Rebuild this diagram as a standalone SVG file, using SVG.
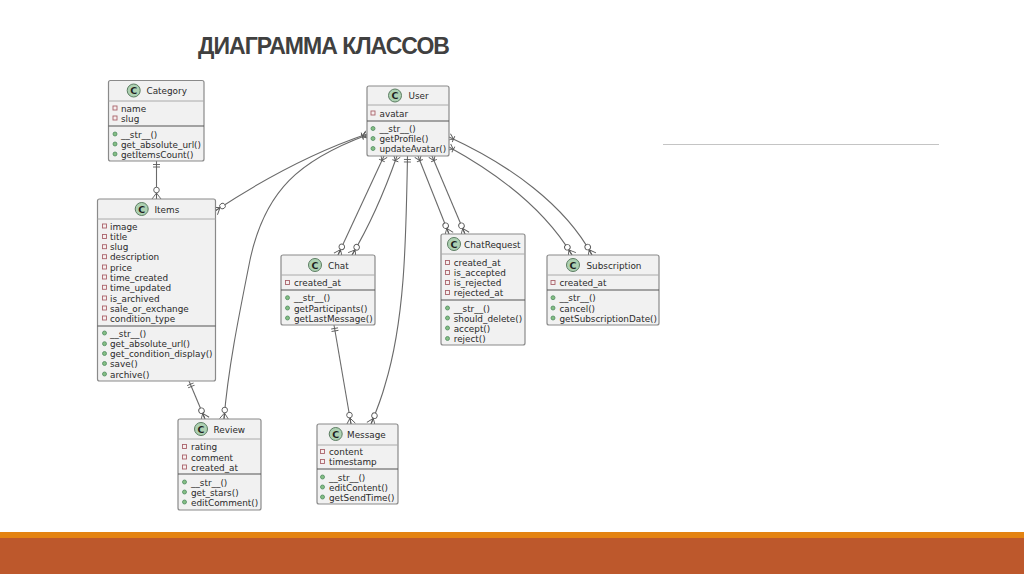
<svg xmlns="http://www.w3.org/2000/svg" width="1024" height="574" viewBox="0 0 1024 574">
<style>
.box{fill:#f1f1f1;stroke:#8a8a8a;stroke-width:1.2}
.sep1{stroke:#aaaaaa;stroke-width:1;fill:none}
.sep2{stroke:#555555;stroke-width:1.2;fill:none}
.icon{fill:#add1b2;stroke:#5c7d62;stroke-width:1}
.c{font:bold 9.5px "DejaVu Sans",sans-serif;fill:#1f1f1f;text-anchor:middle}
.t{font:8.85px "DejaVu Sans",sans-serif;fill:#2a2a2a}
.h{font:8.85px "DejaVu Sans",sans-serif;fill:#2a2a2a}
.title{font:bold 23px "Liberation Sans",Arial,sans-serif;fill:#404040;letter-spacing:-.95px}
.conn{fill:none;stroke:#6a6a6a;stroke-width:1.1}
.zm{marker-end:url(#zeroMany)}
.om{marker-start:url(#oneMany)}
.oo{marker-start:url(#oneOne)}
.mk{fill:none;stroke:#5a5a5a;stroke-width:.9}
</style>
<defs>
<marker id="zeroMany" markerUnits="userSpaceOnUse" markerWidth="24" markerHeight="24" refX="0" refY="0" orient="auto" overflow="visible">
<path class="mk" d="M-6,0L0,-4.5M-6,0L0,0M-6,0L0,4.5"/><circle cx="-9" cy="0" r="2.8" fill="#fff" stroke="#5a5a5a" stroke-width=".9"/>
</marker>
<marker id="oneMany" markerUnits="userSpaceOnUse" markerWidth="24" markerHeight="24" refX="0" refY="0" orient="auto-start-reverse" overflow="visible">
<path class="mk" d="M-5,0L0,-3.5M-5,0L0,3.5M-5,-3.2L-5,3.2"/>
</marker>
<marker id="oneOne" markerUnits="userSpaceOnUse" markerWidth="24" markerHeight="24" refX="0" refY="0" orient="auto-start-reverse" overflow="visible">
<path class="mk" d="M-3.5,-3.5L-3.5,3.5M-6,-3.5L-6,3.5"/>
</marker>
<g id="p"><rect x="-2" y="-2" width="4" height="4" fill="#f6eeee" stroke="#a9636b" stroke-width=".9"/></g>
<g id="m"><circle r="2" fill="#84be84" stroke="#4f8a5f" stroke-width=".8"/></g>
</defs>
<rect width="1024" height="574" fill="#ffffff"/>
<text class="title" x="198" y="54">ДИАГРАММА КЛАССОВ</text>
<line x1="663" y1="144.5" x2="939" y2="144.5" stroke="#c4c4c4" stroke-width="1"/>
<rect x="0" y="532" width="1024" height="6" fill="#e48312"/>
<rect x="0" y="538" width="1024" height="36" fill="#bd582c"/>

<g id="connectors">
<path class="conn oo zm" d="M156.500,161L156.500,199"/>
<path class="conn om zm" d="M367,134C320,150 265,178 215,211"/>
<path class="conn om zm" d="M367,135C300,160 265,190 250,260C238,320 228,370 224,419"/>
<path class="conn om zm" d="M384,156L338,255"/>
<path class="conn om zm" d="M397,156C385,190 370,225 352,255"/>
<path class="conn oo zm" d="M407.500,156C406,240 405,320 385,385C381,400 376,412 371,424"/>
<path class="conn om zm" d="M418,156L449,234"/>
<path class="conn om zm" d="M432,156L465,234"/>
<path class="conn om zm" d="M449,137C510,165 565,205 592,255"/>
<path class="conn om zm" d="M449,147C500,175 545,210 572,255"/>
<path class="conn oo zm" d="M334,325L351,424"/>
<path class="conn oo zm" d="M189,381L205,419"/>
</g>

<g id="category">
<rect class="box" x="108.500" y="80.500" width="95.500" height="80.500" rx="2"/>
<line class="sep1" x1="108.500" y1="101" x2="204" y2="101"/><line class="sep2" x1="108.500" y1="126" x2="204" y2="126"/>
<circle class="icon" cx="133.700" cy="90.500" r="6.500"/><text class="c" x="133.700" y="94">C</text>
<text class="h" x="146.500" y="94">Category</text>
<use href="#p" x="115" y="108"/><text class="t" x="121" y="111.500">name</text>
<use href="#p" x="115" y="118"/><text class="t" x="121" y="121.500">slug</text>
<use href="#m" x="115" y="134"/><text class="t" x="121" y="137.500">__str__()</text>
<use href="#m" x="115" y="144"/><text class="t" x="121" y="147.500">get_absolute_url()</text>
<use href="#m" x="115" y="154"/><text class="t" x="121" y="157.500">getItemsCount()</text>
</g>

<g id="items">
<rect class="box" x="97.500" y="199" width="118" height="182" rx="2"/>
<line class="sep1" x1="97.500" y1="219" x2="215.500" y2="219"/><line class="sep2" x1="97.500" y1="326" x2="215.500" y2="326"/>
<circle class="icon" cx="141.700" cy="209" r="6.500"/><text class="c" x="141.700" y="212.500">C</text>
<text class="h" x="154.500" y="212.500">Items</text>
<use href="#p" x="104.500" y="226"/><text class="t" x="110" y="229.500">image</text>
<use href="#p" x="104.500" y="236.500"/><text class="t" x="110" y="240">title</text>
<use href="#p" x="104.500" y="246.700"/><text class="t" x="110" y="250.200">slug</text>
<use href="#p" x="104.500" y="256.700"/><text class="t" x="110" y="260.200">description</text>
<use href="#p" x="104.500" y="267"/><text class="t" x="110" y="270.500">price</text>
<use href="#p" x="104.500" y="277"/><text class="t" x="110" y="280.500">time_created</text>
<use href="#p" x="104.500" y="287.300"/><text class="t" x="110" y="290.800">time_updated</text>
<use href="#p" x="104.500" y="298"/><text class="t" x="110" y="301.500">is_archived</text>
<use href="#p" x="104.500" y="308"/><text class="t" x="110" y="311.500">sale_or_exchange</text>
<use href="#p" x="104.500" y="318"/><text class="t" x="110" y="321.500">condition_type</text>
<use href="#m" x="104.500" y="333"/><text class="t" x="110" y="336.500">__str__()</text>
<use href="#m" x="104.500" y="343.700"/><text class="t" x="110" y="347.200">get_absolute_url()</text>
<use href="#m" x="104.500" y="353.500"/><text class="t" x="110" y="357">get_condition_display()</text>
<use href="#m" x="104.500" y="363.500"/><text class="t" x="110" y="367">save()</text>
<use href="#m" x="104.500" y="374"/><text class="t" x="110" y="377.500">archive()</text>
</g>

<g id="review">
<rect class="box" x="178" y="419" width="83" height="91" rx="2"/>
<line class="sep1" x1="178" y1="439" x2="261" y2="439"/><line class="sep2" x1="178" y1="474" x2="261" y2="474"/>
<circle class="icon" cx="201" cy="429" r="6.500"/><text class="c" x="201" y="432.500">C</text>
<text class="h" x="213.500" y="432.500">Review</text>
<use href="#p" x="184.500" y="446.500"/><text class="t" x="191" y="450">rating</text>
<use href="#p" x="184.500" y="457"/><text class="t" x="191" y="460.500">comment</text>
<use href="#p" x="184.500" y="467"/><text class="t" x="191" y="470.500">created_at</text>
<use href="#m" x="184.500" y="482"/><text class="t" x="191" y="485.500">__str__()</text>
<use href="#m" x="184.500" y="492"/><text class="t" x="191" y="495.500">get_stars()</text>
<use href="#m" x="184.500" y="502"/><text class="t" x="191" y="505.500">editComment()</text>
</g>

<g id="user">
<rect class="box" x="367" y="86" width="82" height="70" rx="2"/>
<line class="sep1" x1="367" y1="105" x2="449" y2="105"/><line class="sep2" x1="367" y1="121" x2="449" y2="121"/>
<circle class="icon" cx="395" cy="95.500" r="6.500"/><text class="c" x="395" y="99">C</text>
<text class="h" x="408.500" y="99">User</text>
<use href="#p" x="373" y="113"/><text class="t" x="379.500" y="116.500">avatar</text>
<use href="#m" x="373" y="128.500"/><text class="t" x="379.500" y="132">__str__()</text>
<use href="#m" x="373" y="138.500"/><text class="t" x="379.500" y="142">getProfile()</text>
<use href="#m" x="373" y="148.500"/><text class="t" x="379.500" y="152">updateAvatar()</text>
</g>

<g id="chat">
<rect class="box" x="281" y="255" width="94" height="70" rx="2"/>
<line class="sep1" x1="281" y1="275" x2="375" y2="275"/><line class="sep2" x1="281" y1="290" x2="375" y2="290"/>
<circle class="icon" cx="315" cy="265" r="6.500"/><text class="c" x="315" y="268.500">C</text>
<text class="h" x="328" y="268.500">Chat</text>
<use href="#p" x="287.500" y="282.500"/><text class="t" x="294" y="286">created_at</text>
<use href="#m" x="287.500" y="297.700"/><text class="t" x="294" y="301.200">__str__()</text>
<use href="#m" x="287.500" y="308"/><text class="t" x="294" y="311.500">getParticipants()</text>
<use href="#m" x="287.500" y="318"/><text class="t" x="294" y="321.500">getLastMessage()</text>
</g>

<g id="chatrequest">
<rect class="box" x="441" y="234" width="84" height="111" rx="2"/>
<line class="sep1" x1="441" y1="254" x2="525" y2="254"/><line class="sep2" x1="441" y1="300" x2="525" y2="300"/>
<circle class="icon" cx="454" cy="244" r="6.500"/><text class="c" x="454" y="247.500">C</text>
<text class="h" x="464" y="247.500">ChatRequest</text>
<use href="#p" x="447.500" y="262.500"/><text class="t" x="453.700" y="266">created_at</text>
<use href="#p" x="447.500" y="272.500"/><text class="t" x="453.700" y="276">is_accepted</text>
<use href="#p" x="447.500" y="282.500"/><text class="t" x="453.700" y="286">is_rejected</text>
<use href="#p" x="447.500" y="292.500"/><text class="t" x="453.700" y="296">rejected_at</text>
<use href="#m" x="447.500" y="308"/><text class="t" x="453.700" y="311.500">__str__()</text>
<use href="#m" x="447.500" y="318"/><text class="t" x="453.700" y="321.500">should_delete()</text>
<use href="#m" x="447.500" y="328"/><text class="t" x="453.700" y="331.500">accept()</text>
<use href="#m" x="447.500" y="338.500"/><text class="t" x="453.700" y="342">reject()</text>
</g>

<g id="subscription">
<rect class="box" x="547" y="255" width="112" height="70" rx="2"/>
<line class="sep1" x1="547" y1="275" x2="659" y2="275"/><line class="sep2" x1="547" y1="290" x2="659" y2="290"/>
<circle class="icon" cx="573" cy="265" r="6.500"/><text class="c" x="573" y="268.500">C</text>
<text class="h" x="586.500" y="268.500">Subscription</text>
<use href="#p" x="553" y="282.500"/><text class="t" x="559.500" y="286">created_at</text>
<use href="#m" x="553" y="297.700"/><text class="t" x="559.500" y="301.200">__str__()</text>
<use href="#m" x="553" y="308"/><text class="t" x="559.500" y="311.500">cancel()</text>
<use href="#m" x="553" y="318"/><text class="t" x="559.500" y="321.500">getSubscriptionDate()</text>
</g>

<g id="message">
<rect class="box" x="317" y="424" width="81" height="80" rx="2"/>
<line class="sep1" x1="317" y1="445" x2="398" y2="445"/><line class="sep2" x1="317" y1="469" x2="398" y2="469"/>
<circle class="icon" cx="335.700" cy="434" r="6.500"/><text class="c" x="335.700" y="437.500">C</text>
<text class="h" x="347" y="437.500">Message</text>
<use href="#p" x="322.500" y="451.500"/><text class="t" x="329" y="455">content</text>
<use href="#p" x="322.500" y="461.500"/><text class="t" x="329" y="465">timestamp</text>
<use href="#m" x="322.500" y="477"/><text class="t" x="329" y="480.500">__str__()</text>
<use href="#m" x="322.500" y="487"/><text class="t" x="329" y="490.500">editContent()</text>
<use href="#m" x="322.500" y="497"/><text class="t" x="329" y="500.500">getSendTime()</text>
</g>
</svg>
